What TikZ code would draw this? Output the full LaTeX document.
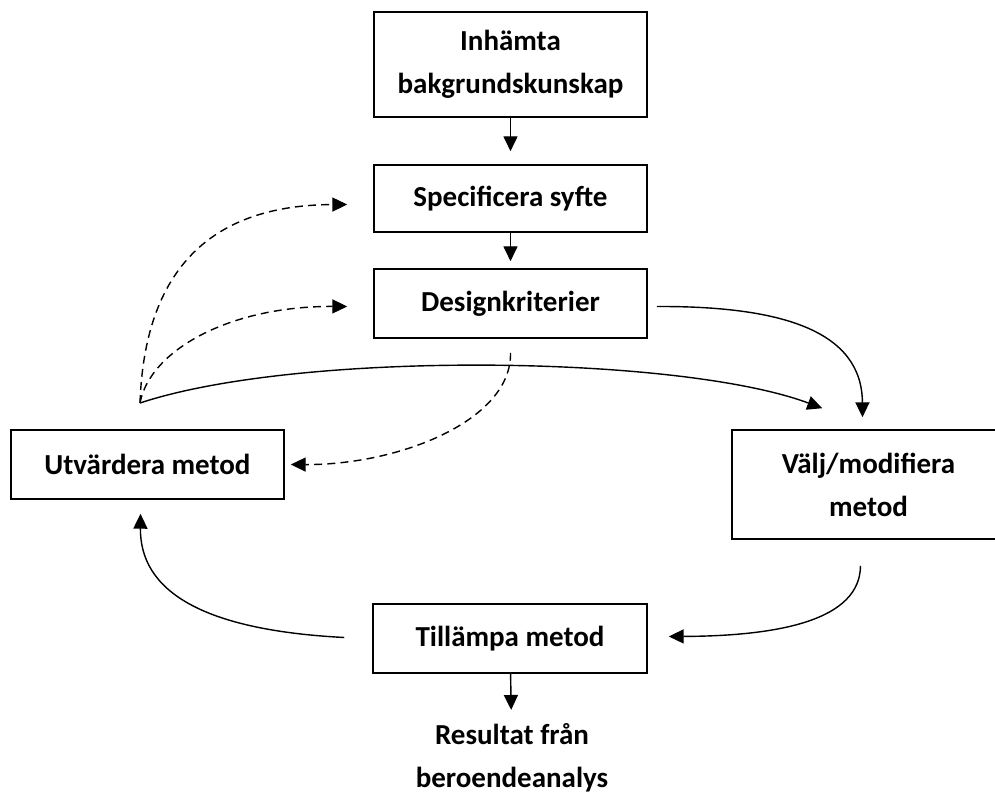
\documentclass[tikz,border=0pt]{standalone}
\usepackage{fontspec}
\setmainfont{Carlito}
\usetikzlibrary{arrows.meta}
\usetikzlibrary{calc}

\tikzset{
  blk/.style={draw, rectangle, line width=0.9pt, inner sep=0pt, align=center,
    font=\bfseries\fontsize{16.5}{24.5}\selectfont},
  flow/.style={line width=0.8pt, -{Triangle[length=8.5pt,width=8pt]}},
  back/.style={flow, dash pattern=on 4.5pt off 3pt},
}

\begin{document}
\begin{tikzpicture}[x=0.02cm, y=-0.02cm]
        \useasboundingbox (0,0) rectangle (995,794);
        \clip (0,0) rectangle (995,794);
        \node[blk, minimum width=5.46cm, minimum height=2.1cm] (inh) at (510.5,64.5)
        {Inhämta\\bakgrundskunskap};
        \node[blk, minimum width=5.46cm, minimum height=1.34cm] (spec) at (510.5,198.5) {\raisebox{3pt}{Specificera syfte}};
        \node[blk, minimum width=5.46cm, minimum height=1.38cm] (design) at (510.5,303.5) {Designkriterier};
        \node[blk, minimum width=5.46cm, minimum height=1.38cm] (utv) at (147.5,464.5) {Utvärdera metod};
        \node[blk, minimum width=5.46cm, minimum height=2.18cm] (valj) at (868.5,484.5) {Välj/modifiera\\metod};
        \node[blk, minimum width=5.48cm, minimum height=1.38cm] (till) at (510,638.5) {Tillämpa metod};
        \node[blk, draw=none] (res) at (512,758) {Resultat från\\beroendeanalys};
        \coordinate (fb) at (140,403);
        % main flow
        \draw[flow, shorten >=0.26cm] (inh) -- (spec);
        \draw[flow, shorten >=0.14cm] (spec) -- (design);
        \draw[flow, shorten >=0.26cm] (till) -- (res);
        \draw[flow] ($(design.east)+(9,3)$) .. controls (780,306) and (862,330) .. ($(valj.north)+(-6,-12)$);
        \draw[flow] ($(valj.south)+(-8,26)$) .. controls (860,620) and (780,636) .. ($(till.east)+(21,-2)$);
        \draw[flow] ($(till.west)+(-28,-1)$) .. controls (200,630) and (140,590) .. ($(utv.south)+(-7,14)$);
        \draw[flow] (fb) .. controls (300,350) and (680,355) .. ($(valj.north west)+(91,-21)$);
        % feedback
        \draw[back] (fb) .. controls (145,260) and (220,205) .. ($(spec.west)+(-26,6)$);
        \draw[back] (fb) .. controls (150,350) and (230,306) .. ($(design.west)+(-26,3)$);
        \draw[back] ($(design.south)+(0,14)$) .. controls (512,420) and (400,465) .. ($(utv.east)+(6,0)$);
    \end{tikzpicture}
\end{document}
